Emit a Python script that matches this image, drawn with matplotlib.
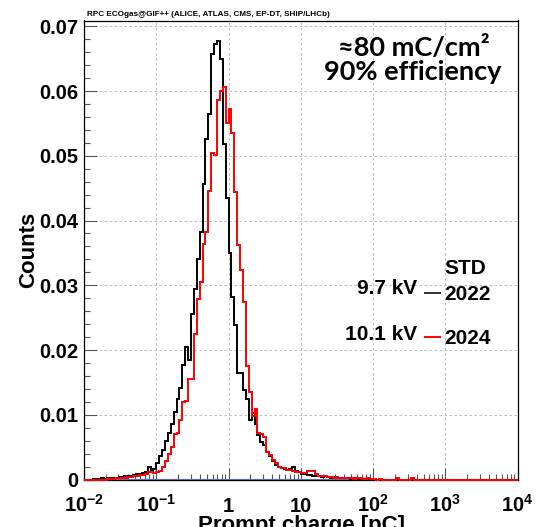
import numpy as np
import matplotlib.pyplot as plt
from matplotlib.lines import Line2D
from matplotlib.ticker import FixedLocator, LogLocator, NullFormatter, MultipleLocator
from matplotlib.transforms import blended_transform_factory

plt.rcParams['font.family'] = ['Liberation Sans', 'DejaVu Sans']
plt.rcParams['font.weight'] = 'bold'
plt.rcParams['mathtext.fontset'] = 'custom'
plt.rcParams['mathtext.rm'] = 'Liberation Sans:bold'
plt.rcParams['mathtext.it'] = 'Liberation Sans:bold'
plt.rcParams['mathtext.bf'] = 'Liberation Sans:bold'

# Binning: 25 log bins per decade, 1e-2 .. 1e4 pC
n_bins = 150
edges = np.logspace(-2, 4, n_bins + 1)

# STD 2022 @ 9.7 kV (black)
std_2022 = ([0, 0, 0]
            + [0.0001, 0.0001, 0.0001, 0.0002, 0.0001, 0.0002, 0.0002, 0.0003, 0.0002, 0.0004,
               0.0004, 0.0005, 0.0005, 0.0006, 0.0007, 0.0008, 0.0008, 0.0010, 0.0012, 0.0019,
               0.0013, 0.0016]
            + [0.0025, 0.0036, 0.0046, 0.0060, 0.0072, 0.0085, 0.0105, 0.0124, 0.0141, 0.0177,
               0.0204, 0.0184, 0.0255, 0.0295, 0.0341, 0.0382, 0.0456, 0.0526, 0.0564, 0.0657,
               0.0673, 0.0677, 0.0649, 0.0518]
            + [0.0435, 0.0350, 0.0282, 0.0238, 0.0164, 0.0165, 0.0139, 0.0125, 0.0092, 0.0102,
               0.0086, 0.0068]
            + [0.0058, 0.0053, 0.0043, 0.0037, 0.0029, 0.0023, 0.0019, 0.0018, 0.0016, 0.0014,
               0.0016, 0.0019, 0.0013, 0.0011, 0.0009, 0.0008, 0.0007, 0.0007, 0.0006, 0.0006]
            + [0.0005, 0.0004, 0.0005, 0.0004, 0.0003, 0.0004, 0.0003, 0.0002, 0.0003, 0.0002,
               0.0002, 0.0001, 0.0002, 0.0001, 0.0001, 0.0001, 0.0001, 0, 0.0001, 0])
std_2022 += [0] * (n_bins - len(std_2022))

# STD 2024 @ 10.1 kV (red)
std_2024 = ([0] * 8
            + [0.0001, 0.0001, 0.0001, 0.0002, 0.0002, 0.0003, 0.0003, 0.0004, 0.0004, 0.0005,
               0.0006, 0.0007, 0.0007, 0.0009, 0.0012, 0.0011]
            + [0.0010, 0.0011, 0.0013, 0.0019, 0.0028, 0.0040, 0.0050, 0.0071, 0.0072, 0.0092]
            + [0.0120, 0.0121, 0.0155, 0.0156, 0.0224, 0.0279, 0.0305, 0.0364, 0.0382, 0.0446,
               0.0505, 0.0501, 0.0586, 0.0600, 0.0606, 0.0551, 0.0572, 0.0535, 0.0444, 0.0362,
               0.0324, 0.0274, 0.0175]
            + [0.0135, 0.0098, 0.0109, 0.0072, 0.0070, 0.0066, 0.0043, 0.0038, 0.0030, 0.0025,
               0.0020, 0.0017, 0.0017, 0.0015, 0.0015, 0.0013, 0.0011, 0.0011, 0.0010, 0.0010,
               0.0013, 0.0013, 0.0013, 0.0008]
            + [0.0006, 0.0005, 0.0005, 0.0004, 0.0004, 0.0003, 0.0004, 0.0003, 0.0002, 0.0003,
               0.0002, 0.0002, 0.0001, 0.0002, 0.0002, 0.0001, 0.0001, 0.0002, 0.0001, 0.0001,
               0, 0.0001, 0, 0, 0, 0, 0, 0.0002, 0, 0, 0, 0, 0.0002, 0, 0])
std_2024 += [0] * (n_bins - len(std_2024))

# blue baseline function range (pC)
blue_range = [0.025, 50]

x_ticks = [1e-2, 1e-1, 1, 10, 1e2, 1e3, 1e4]
x_labels = ['$10^{-2}$', '$10^{-1}$', '1', '10', '$10^{2}$', '$10^{3}$', '$10^{4}$']
y_ticks = [0, 0.01, 0.02, 0.03, 0.04, 0.05, 0.06, 0.07]
y_labels = ['0', '0.01', '0.02', '0.03', '0.04', '0.05', '0.06', '0.07']

W, H = 536, 527
fig = plt.figure(figsize=(W / 100, H / 100), dpi=100)
ax = fig.add_axes([84 / W, 1 - 479.5 / H, (517.7 - 84) / W, (479.5 - 20.5) / H])

ax.set_xscale('log')
ax.set_xlim(1e-2, 1e4)
ax.set_ylim(0, 0.0709)

ax.plot(blue_range, [0, 0], color='#6b77c4', lw=1.6, clip_on=False, zorder=2)
ax.stairs(std_2022, edges, color='black', lw=1.4, clip_on=False, zorder=3)
ax.stairs(std_2024, edges, color='red', lw=1.4, clip_on=False, zorder=4)

# grid and ticks
ax.grid(True, which='major', color='#b4b4b4', ls=(0, (3, 3)), lw=0.6)
ax.set_axisbelow(True)
ax.xaxis.set_major_locator(FixedLocator(x_ticks))
ax.xaxis.set_minor_locator(LogLocator(base=10, subs=np.arange(2, 10), numticks=20))
ax.xaxis.set_minor_formatter(NullFormatter())
ax.set_xticklabels([])
ax.set_yticks(y_ticks)
ax.set_yticklabels(y_labels, fontsize=14.5, fontweight='bold')
ax.yaxis.set_minor_locator(MultipleLocator(0.002))
ax.tick_params(which='both', direction='in', top=False, right=False, color='#555555')
ax.tick_params(which='major', length=9, width=0.8)
ax.tick_params(which='minor', length=4.5, width=0.8)
ax.tick_params(axis='y', pad=4)
for s in ax.spines.values():
    s.set_linewidth(0.9)

tr = blended_transform_factory(ax.transData, ax.transAxes)
for v, lab in zip(x_ticks, x_labels):
    ax.text(v, -0.070, lab, transform=tr, ha='center', va='baseline',
            fontsize=14.5, fontweight='bold')

# axis titles
fig.text(301 / W, -4 / H, 'Prompt charge [pC]', ha='center', va='baseline',
         fontsize=16, fontweight='bold')
fig.text(29 / W, 1 - 250 / H, 'Counts', rotation=90, ha='center', va='center',
         fontsize=16, fontweight='bold')

# header
fig.text(87 / W, 1 - 16 / H, 'RPC ECOgas@GIF++ (ALICE, ATLAS, CMS, EP-DT, SHiP/LHCb)',
         ha='left', va='baseline', fontsize=5.9, fontweight='bold')

# annotation
fig.text(414 / W, 1 - 56 / H, '≈80 mC/cm²', ha='center', va='baseline',
         fontsize=19.5, fontweight='bold', family=['Lato', 'DejaVu Sans'])
fig.text(413 / W, 1 - 80 / H, '90% efficiency', ha='center', va='baseline',
         fontsize=19.5, fontweight='bold', family=['Lato', 'DejaVu Sans'])

# legend
fig.text(444 / W, 1 - 269 / H, 'STD', ha='left', va='center', fontsize=15, fontweight='bold')
fig.text(444 / W, 1 - 295 / H, '2022', ha='left', va='center', fontsize=15, fontweight='bold')
fig.text(444 / W, 1 - 338 / H, '2024', ha='left', va='center', fontsize=15, fontweight='bold')
fig.text(416.7 / W, 1 - 289 / H, '9.7 kV', ha='right', va='center', fontsize=15, fontweight='bold')
fig.text(416.7 / W, 1 - 335 / H, '10.1 kV', ha='right', va='center', fontsize=15, fontweight='bold')
fig.add_artist(Line2D([425 / W, 440 / W], [1 - 292.7 / H] * 2, color='#333333', lw=1.4))
fig.add_artist(Line2D([425 / W, 440 / W], [1 - 336.7 / H] * 2, color='red', lw=1.4))

fig.savefig('out.png', dpi=100)
